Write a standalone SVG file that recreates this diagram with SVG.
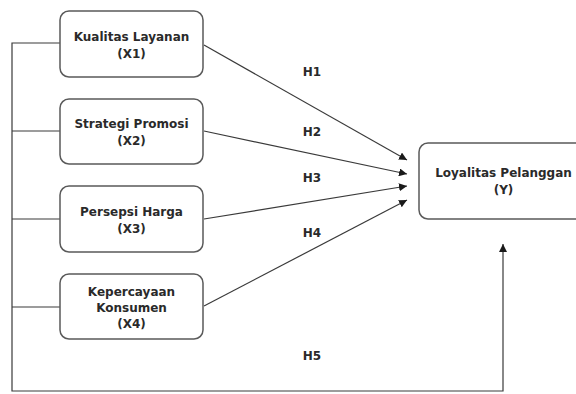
<svg xmlns="http://www.w3.org/2000/svg" width="576" height="394" viewBox="0 0 576 394">
<style>
.box{fill:#fff;stroke:#5a5a5a;stroke-width:1.5}
.t{font-family:"DejaVu Sans",Verdana,sans-serif;font-weight:bold;font-size:12px;fill:#2a2a2a;text-anchor:middle}
.ln{fill:none;stroke:#3a3a3a;stroke-width:1.2}
</style>
<defs>
<marker id="ah" viewBox="0 0 10 10" refX="10" refY="5" markerWidth="8" markerHeight="8" markerUnits="userSpaceOnUse" orient="auto">
<path d="M0,0 L10,5 L0,10 Z" fill="#1a1a1a"/>
</marker>
</defs>
<g id="connectors">
<path class="ln" d="M60,43 H12 V391 H503 V244" marker-end="url(#ah)"/>
<path class="ln" d="M12,131 H60 M12,219 H60 M12,307 H60"/>
<line class="ln" x1="204" y1="45" x2="407" y2="160" marker-end="url(#ah)"/>
<line class="ln" x1="204" y1="131" x2="407" y2="174" marker-end="url(#ah)"/>
<line class="ln" x1="204" y1="219" x2="407" y2="186" marker-end="url(#ah)"/>
<line class="ln" x1="204" y1="306" x2="407" y2="200" marker-end="url(#ah)"/>
<text class="t" x="312" y="76">H1</text>
<text class="t" x="312" y="136">H2</text>
<text class="t" x="312" y="182">H3</text>
<text class="t" x="312" y="237">H4</text>
<text class="t" x="312" y="360">H5</text>
</g>
<g id="x1">
<rect class="box" x="60" y="11" width="143" height="66" rx="9"/>
<text class="t" x="131.5" y="41">Kualitas Layanan</text>
<text class="t" x="131.5" y="58">(X1)</text>
</g>
<g id="x2">
<rect class="box" x="60" y="99" width="143" height="65" rx="9"/>
<text class="t" x="131.5" y="128">Strategi Promosi</text>
<text class="t" x="131.5" y="145">(X2)</text>
</g>
<g id="x3">
<rect class="box" x="60" y="186" width="143" height="66" rx="9"/>
<text class="t" x="131.5" y="216">Persepsi Harga</text>
<text class="t" x="131.5" y="233">(X3)</text>
</g>
<g id="x4">
<rect class="box" x="60" y="274" width="143" height="65" rx="9"/>
<text class="t" x="131.5" y="296">Kepercayaan</text>
<text class="t" x="131.5" y="312">Konsumen</text>
<text class="t" x="131.5" y="328">(X4)</text>
</g>
<g id="y">
<rect class="box" x="419" y="143" width="168" height="76" rx="9"/>
<text class="t" x="503.5" y="177">Loyalitas Pelanggan</text>
<text class="t" x="503.5" y="194">(Y)</text>
</g>
</svg>
